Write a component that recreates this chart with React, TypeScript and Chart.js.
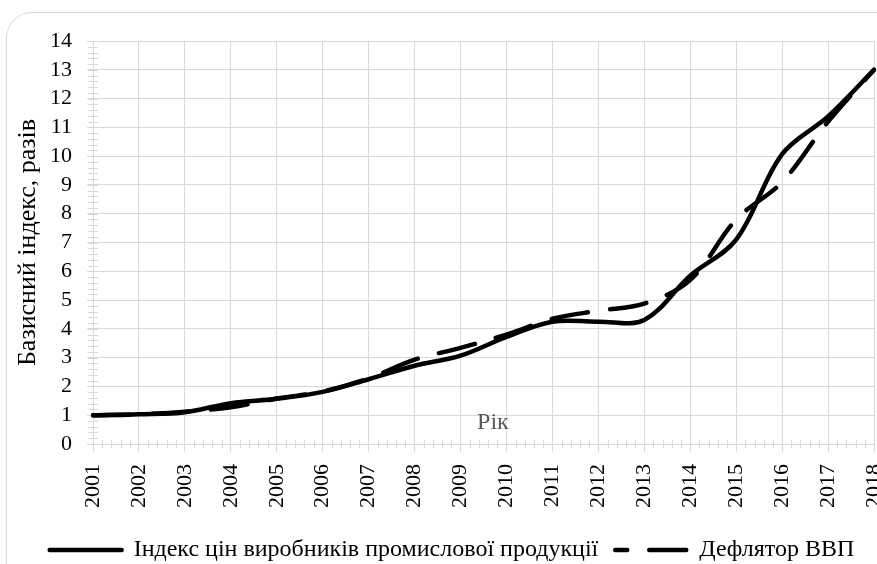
import React, { useEffect, useRef } from 'react';
import { Chart, registerables } from 'chart.js';

Chart.register(...registerables);

const years = ['2001', '2002', '2003', '2004', '2005', '2006', '2007', '2008', '2009', '2010', '2011', '2012', '2013', '2014', '2015', '2016', '2017', '2018'];
const producerPriceIndex = [1.0, 1.03, 1.1, 1.42, 1.57, 1.81, 2.25, 2.72, 3.07, 3.72, 4.25, 4.25, 4.31, 5.85, 7.1, 10.07, 11.38, 13.0];
const gdpDeflator = [1.0, 1.03, 1.12, 1.28, 1.58, 1.82, 2.28, 2.93, 3.34, 3.8, 4.35, 4.63, 4.88, 5.7, 7.8, 9.1, 11.2, 13.0];
const seriesNames = ['Індекс цін виробників промислової продукції', 'Дефлятор ВВП'];
const yAxisTitle = 'Базисний індекс, разів';
const xAxisTitle = 'Рік';
const yMin = 0;
const yMax = 14;
const yStep = 1;
const minorPerMajor = 5;

const FONT = '"Liberation Serif"';
const GRID = '#d9d9d9';
const DASH = [37, 22];

const decorPlugin = {
  id: 'decor',
  beforeDatasetsDraw(chart: any) {
    const { ctx, chartArea, scales } = chart;
    const x = scales.x;
    const y = scales.y;
    ctx.save();
    ctx.strokeStyle = GRID;
    ctx.lineWidth = 1;
    ctx.beginPath();
    const nY = Math.round(((yMax - yMin) / yStep) * minorPerMajor);
    for (let i = 0; i <= nY; i++) {
      const v = yMin + (i * yStep) / minorPerMajor;
      const py = Math.round(y.getPixelForValue(v)) + 0.5;
      ctx.moveTo(chartArea.left - 5, py);
      ctx.lineTo(chartArea.left + 5, py);
    }
    for (let i = 0; i < years.length - 1; i++) {
      for (let k = 1; k < minorPerMajor; k++) {
        const px = Math.round(x.getPixelForValue(i + k / minorPerMajor)) + 0.5;
        ctx.moveTo(px, chartArea.bottom - 4);
        ctx.lineTo(px, chartArea.bottom + 4);
      }
    }
    ctx.stroke();
    ctx.fillStyle = '#595959';
    ctx.font = `24px ${FONT}`;
    ctx.textAlign = 'center';
    ctx.textBaseline = 'middle';
    ctx.fillText(xAxisTitle, chartArea.left + (chartArea.right - chartArea.left) * 0.512, chartArea.bottom - 21);
    ctx.restore();
  },
};

function makeConfig(): any {
  return {
    type: 'line',
    data: {
      labels: years,
      datasets: [
        {
          label: seriesNames[0],
          data: producerPriceIndex,
          borderColor: '#000',
          backgroundColor: '#000',
          borderWidth: 4.5,
          pointRadius: 0,
          tension: 0.35,
          fill: false,
          borderCapStyle: 'round',
          borderJoinStyle: 'round',
        },
        {
          label: seriesNames[1],
          data: gdpDeflator,
          borderColor: '#000',
          backgroundColor: '#000',
          borderWidth: 4.5,
          borderDash: DASH,
          pointRadius: 0,
          tension: 0.35,
          fill: false,
          borderCapStyle: 'round',
          borderJoinStyle: 'round',
        },
      ],
    },
    options: {
      responsive: false,
      animation: false,
      devicePixelRatio: 1,
      font: { family: FONT },
      layout: { padding: { left: 30, right: 3, top: 41, bottom: -8 } },
      plugins: {
        tooltip: { enabled: false },
        legend: {
          position: 'bottom',
          labels: {
            usePointStyle: true,
            pointStyle: 'line',
            pointStyleWidth: 72,
            padding: 17,
            color: '#000',
            font: { family: FONT, size: 24 },
            generateLabels: (c: any) => {
              const items = (Chart as any).defaults.plugins.legend.labels.generateLabels(c);
              return items.map((it: any, i: number) => ({
                ...it,
                lineDash: c.data.datasets[i].borderDash || [],
                lineDashOffset: i === 1 ? 25 : 0,
                lineWidth: 4.5,
                lineCap: 'round',
                strokeStyle: '#000',
                fillStyle: '#000',
              }));
            },
          },
        },
      },
      scales: {
        x: {
          type: 'category',
          offset: false,
          grid: { color: GRID, lineWidth: 1, tickLength: 8, drawTicks: true },
          border: { color: GRID, width: 1 },
          ticks: {
            color: '#000',
            font: { family: FONT, size: 22 },
            maxRotation: 90,
            minRotation: 90,
            autoSkip: false,
            padding: 12,
          },
          afterFit: (s: any) => {
            s.height = 77;
            s.paddingLeft = 0;
            s.paddingRight = 0;
          },
        },
        y: {
          min: yMin,
          max: yMax,
          grid: { color: GRID, lineWidth: 1, tickLength: 6 },
          border: { color: GRID, width: 1 },
          ticks: {
            stepSize: yStep,
            autoSkip: false,
            color: '#000',
            font: { family: FONT, size: 22 },
            padding: 15,
          },
          title: {
            display: true,
            text: yAxisTitle,
            color: '#000',
            font: { family: FONT, size: 26 },
            padding: { top: -17.6, bottom: 0 },
          },
          afterFit: (s: any) => {
            s.width = 63;
          },
        },
      },
    },
    plugins: [decorPlugin],
  };
}

function ChartCanvas() {
  const ref = useRef<HTMLCanvasElement | null>(null);
  useEffect(() => {
    if (!ref.current) return;
    const chart = new Chart(ref.current, makeConfig());
    return () => chart.destroy();
  }, []);
  return <canvas ref={ref} width={877} height={564} style={{ position: 'absolute', left: 0, top: 0, width: 877, height: 564 }} />;
}

export default function App() {
  return (
    <div style={{ position: 'fixed', left: 0, top: 0, width: 877, height: 564, overflow: 'hidden', background: '#fff' }}>
      <div
        style={{
          position: 'absolute',
          left: 6,
          top: 12,
          width: 920,
          height: 640,
          border: '1.5px solid #d9d9d9',
          borderRadius: 26,
          boxSizing: 'border-box',
        }}
      />
      <ChartCanvas />
    </div>
  );
}
